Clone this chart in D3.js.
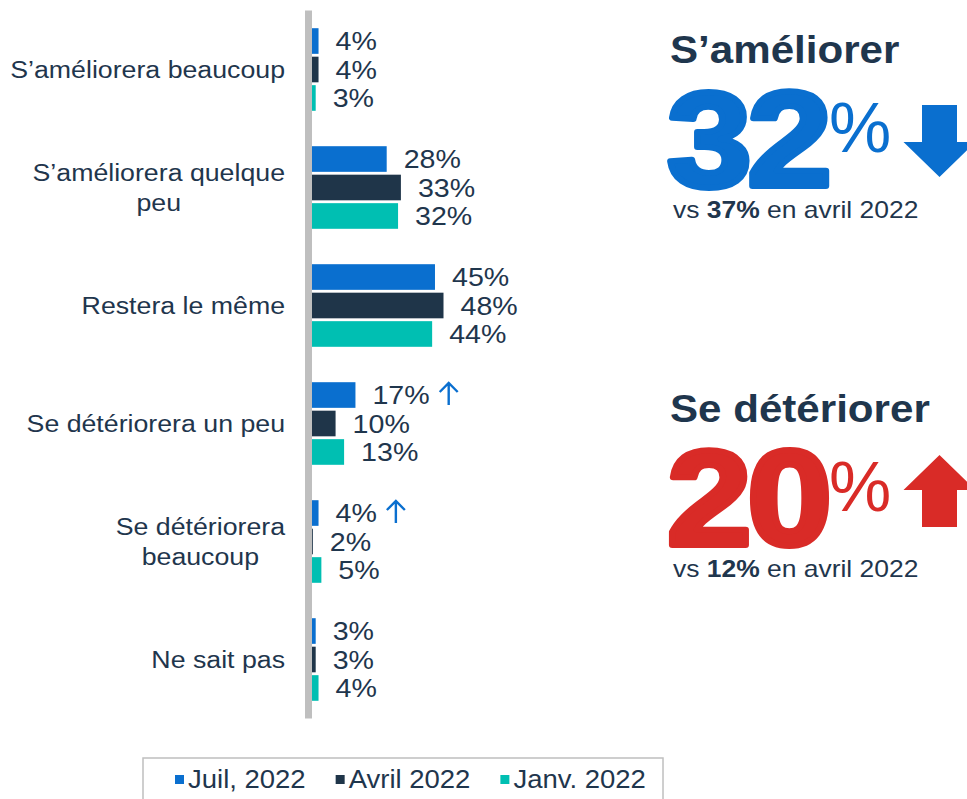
<!DOCTYPE html>
<html><head><meta charset="utf-8">
<script src="https://cdn.jsdelivr.net/npm/d3@7"></script>
<style>body{margin:0;background:#fff;} svg{display:block;font-family:"Liberation Sans",Arial,sans-serif;}</style>
</head><body><svg id="c" width="967" height="799"></svg>
<script>
// ---- data ----
const categories = ["S’améliorera beaucoup", "S’améliorera quelque\npeu", "Restera le même", "Se détériorera un peu", "Se détériorera\nbeaucoup", "Ne sait pas"];
const seriesNames = ["Juil, 2022", "Avril 2022", "Janv. 2022"];
const juil  = [4, 28, 45, 17, 4, 3];
const avril = [4, 33, 48, 10, 2, 3];
const janv  = [3, 32, 44, 13, 5, 4];
const juilSignificantUp = [false, false, false, true, true, false];
const improveTitle = "S’améliorer", improveNow = 32, improvePrev = 37;
const deteriorateTitle = "Se détériorer", deteriorateNow = 20, deterioratePrev = 12;
const compareLabel = "en avril 2022";

// ---- style ----
const BLUE = "#0a6fcf", NAVY = "#1f3549", TEAL = "#00bfb2", RED = "#d92b27", TEXT = "#1f364d", GRAY = "#bfbfbf";
const colors = [BLUE, NAVY, TEAL];
const SX = 1.1;
const svg = d3.select("#c");

function T(sel, x, y, s, size, opt = {}) {
  return sel.append("text")
    .attr("transform", `translate(${x},${y}) scale(${opt.sx || SX},1)`)
    .attr("font-size", size)
    .attr("fill", opt.fill || TEXT)
    .attr("text-anchor", opt.anchor || "start")
    .attr("font-weight", opt.weight || "normal")
    .attr("dy", opt.dy || null)
    .text(s);
}

// ---- scales ----
const y = d3.scaleBand().domain(categories).range([10.5, 718.5]).paddingInner(0.3).paddingOuter(0.15);
const ySub = d3.scaleBand().domain(seriesNames).range([0, y.bandwidth()]).paddingInner(0.1);
const x = d3.scaleLinear().domain([1.7, 48]).range([312, 443.5]);
const x0 = x.range()[0];

const series = [juil, avril, janv];

// bars
const g = svg.append("g");
categories.forEach((c, i) => {
  series.forEach((s, j) => {
    g.append("rect")
      .attr("x", x0)
      .attr("y", y(c) + ySub(seriesNames[j]))
      .attr("width", Math.max(0.8, x(s[i]) - x0))
      .attr("height", ySub.bandwidth())
      .attr("fill", colors[j]);
  });
});

// axis line
svg.append("line").attr("x1", x0 - 3.5).attr("x2", x0 - 3.5).attr("y1", y.range()[0]).attr("y2", y.range()[1])
  .attr("stroke", GRAY).attr("stroke-width", 7);

// value labels + significance arrows
categories.forEach((c, i) => {
  series.forEach((s, j) => {
    const cy = y(c) + ySub(seriesNames[j]) + ySub.bandwidth() / 2;
    const lx = Math.max(x(s[i]), x0) + 17;
    const t = T(svg, lx, cy, s[i] + "%", 26, { dy: "0.36em" });
    if (j === 0 && juilSignificantUp[i]) {
      const ax = lx + t.node().getComputedTextLength() * SX + 19;
      svg.append("path")
        .attr("d", `M${ax},${cy - 12}V${cy + 10}M${ax - 9},${cy - 3}L${ax},${cy - 12}L${ax + 9},${cy - 3}`)
        .attr("fill", "none").attr("stroke", BLUE).attr("stroke-width", 2.4);
    }
  });
});

// category labels
categories.forEach(c => {
  const lines = c.split("\n");
  const cy = y(c) + y.bandwidth() / 2;
  const ts = lines.map((l, k) => T(svg, 0, cy + (k - (lines.length - 1) / 2) * 30, l, 24.3, { anchor: "middle", dy: "0.36em" }));
  const maxW = d3.max(ts, t => t.node().getComputedTextLength()) * SX;
  const cx = 285 - maxW / 2;
  ts.forEach((t, k) => t.attr("transform", `translate(${cx},${cy + (k - (lines.length - 1) / 2) * 30}) scale(${SX},1)`));
});

// legend
svg.append("rect").attr("x", 143).attr("y", 758).attr("width", 520).attr("height", 60)
  .attr("fill", "none").attr("stroke", GRAY).attr("stroke-width", 1.5);
let lx = 175;
seriesNames.forEach((n, j) => {
  svg.append("rect").attr("x", lx).attr("y", 775).attr("width", 9).attr("height", 9).attr("fill", colors[j]);
  const t = T(svg, lx + 13, 788, n, 25);
  lx += 13 + t.node().getComputedTextLength() * SX + 30;
});

// ---- right panel ----
function block(title, now, prev, color, y0, down) {
  T(svg, 670, y0, title, 39, { weight: "bold", sx: 1.08 });
  svg.append("text").attr("transform", `translate(667,${y0 + 123}) scale(1.12,1)`)
    .attr("font-size", 136).attr("font-weight", "bold").attr("fill", color)
    .attr("stroke", color).attr("stroke-width", 6).attr("stroke-linejoin", "round")
    .attr("letter-spacing", -4).text(now);
  svg.append("text").attr("x", 829).attr("y", y0 + 89).attr("font-size", 70).attr("fill", color).text("%");
  // "vs 37% en avril 2022" as separate runs
  const vsx = 1.15;
  let px = 673;
  const parts = [["vs ", "normal"], [prev + "%", "bold"], [" " + compareLabel, "normal"]];
  parts.forEach(([s, w]) => {
    const t = T(svg, px, y0 + 155, s, 23, { weight: w, sx: vsx }).attr("xml:space", "preserve").style("white-space", "pre");
    px += t.node().getComputedTextLength() * vsx;
  });
  const cx = 939.5;
  let d;
  if (down) {
    const top = y0 + 42;
    d = `M922,${top}H957V${top + 37}H${cx + 36}L${cx},${top + 72}L${cx - 36},${top + 37}H922Z`;
  } else {
    const tip = y0 + 33;
    d = `M${cx},${tip}L${cx + 36},${tip + 35}H957V${tip + 72}H922V${tip + 35}H${cx - 36}Z`;
  }
  svg.append("path").attr("d", d).attr("fill", color);
}
block(improveTitle, improveNow, improvePrev, BLUE, 63, true);
block(deteriorateTitle, deteriorateNow, deterioratePrev, RED, 422, false);
</script></body></html>
